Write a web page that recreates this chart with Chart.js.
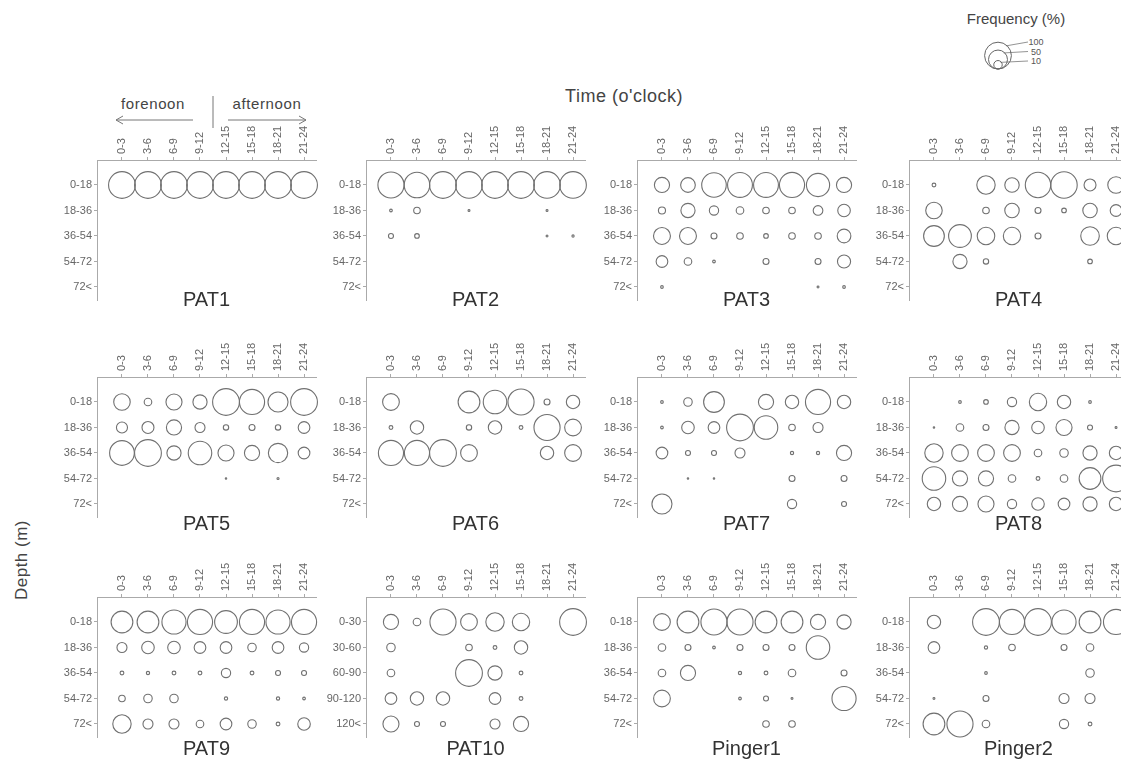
<!DOCTYPE html>
<html>
<head>
<meta charset="utf-8">
<script src="https://cdn.jsdelivr.net/npm/chart.js@4.4.1/dist/chart.umd.min.js"></script>
<style>
  body { margin: 0; background: #fff; width: 1121px; height: 764px; overflow: hidden; position: relative;
         font-family: "Liberation Sans", Arial, sans-serif; color: #444; }
  canvas { position: absolute; }
  .lbl { position: absolute; white-space: nowrap; transform: translate(-50%, -50%); }
</style>
</head>
<body>

<svg width="1121" height="764" style="position:absolute;left:0;top:0">
  <g stroke="#777" fill="none" stroke-width="1">
    <line x1="116" y1="120" x2="193" y2="120"/>
    <polyline points="123,116 116,120 123,124"/>
    <line x1="228" y1="120" x2="306" y2="120"/>
    <polyline points="299,116 306,120 299,124"/>
    <line x1="213" y1="96" x2="213" y2="128"/>
  </g>
  <g id="legendKey" stroke="#666" fill="none" stroke-width="1"></g>
</svg>

<div class="lbl" style="left:153px;top:103px;font-size:15px;letter-spacing:0.6px">forenoon</div>
<div class="lbl" style="left:267px;top:103px;font-size:15px;letter-spacing:0.6px">afternoon</div>
<div class="lbl" style="left:624px;top:96px;font-size:18px;letter-spacing:0.5px">Time (o'clock)</div>
<div class="lbl" style="left:1016px;top:18px;font-size:15px">Frequency (%)</div>
<div class="lbl" style="left:22px;top:560px;font-size:17px;letter-spacing:0.5px;transform:translate(-50%,-50%) rotate(-90deg)">Depth (m)</div>

<script>
// time of day bins (columns) and depth bins (rows)
const times = ["0-3", "3-6", "6-9", "9-12", "12-15", "15-18", "18-21", "21-24"];
const depths = ["0-18", "18-36", "36-54", "54-72", "72<"];
const depthsPat10 = ["0-30", "30-60", "60-90", "90-120", "120<"];
const legendValues = [100, 50, 10];

// frequency (%) per depth row, one value per time bin
const pat1 = [
  [100, 100, 100, 100, 100, 100, 100, 100],
  [0, 0, 0, 0, 0, 0, 0, 0],
  [0, 0, 0, 0, 0, 0, 0, 0],
  [0, 0, 0, 0, 0, 0, 0, 0],
  [0, 0, 0, 0, 0, 0, 0, 0]
];
const pat2 = [
  [95, 91, 100, 99, 100, 100, 99, 99],
  [1, 6, 0, 0.5, 0, 0, 0.5, 0],
  [3.5, 3, 0, 0, 0, 0, 0.5, 0.7],
  [0, 0, 0, 0, 0, 0, 0, 0],
  [0, 0, 0, 0, 0, 0, 0, 0]
];
const pat3 = [
  [32, 30, 84, 86, 86, 88, 75, 32],
  [7, 28, 12, 8, 6, 6, 13, 22],
  [40, 40, 5, 6, 3, 6, 6, 26],
  [19, 8, 1, 0, 5, 0, 5, 24],
  [1, 0, 0, 0, 0, 0, 0.5, 1]
];
const pat4 = [
  [2, 0, 47, 29, 90, 97, 20, 38],
  [38, 0, 6, 29, 5, 3, 29, 19],
  [60, 72, 43, 42, 5, 0, 48, 43],
  [0, 28, 4, 0, 0, 0, 3, 0],
  [0, 0, 0, 0, 0, 0, 0, 0]
];
const pat5 = [
  [38, 8, 36, 28, 100, 88, 56, 100],
  [17, 20, 32, 14, 4, 5, 4, 19],
  [85, 100, 28, 77, 36, 32, 52, 19],
  [0, 0, 0, 0, 0.3, 0, 0.6, 0],
  [0, 0, 0, 0, 0, 0, 0, 0]
];
const pat6 = [
  [39, 0, 0, 66, 77, 95, 5, 25],
  [2, 25, 0, 4, 25, 2, 95, 39],
  [88, 88, 100, 39, 0, 0, 25, 39],
  [0, 0, 0, 0, 0, 0, 0, 0],
  [0, 0, 0, 0, 0, 0, 0, 0]
];
const pat7 = [
  [1, 10, 60, 0, 32, 25, 88, 25],
  [1, 22, 19, 100, 77, 6, 14, 0],
  [19, 3.5, 3.5, 14, 0, 1.5, 1.5, 32],
  [0, 0.3, 0.3, 0, 0, 5, 0, 5],
  [56, 0, 0, 0, 0, 12, 0, 3.5]
];
const pat8 = [
  [0, 1, 3, 12, 42, 25, 1, 0],
  [0.3, 8, 5, 28, 22, 36, 3.5, 0.5],
  [47, 39, 39, 39, 8, 10, 28, 25],
  [77, 32, 32, 8, 2, 8, 66, 100],
  [25, 32, 36, 12, 22, 19, 28, 25]
];
const pat9 = [
  [66, 66, 81, 88, 72, 88, 81, 88],
  [14, 22, 22, 19, 19, 10, 19, 12],
  [2, 1.5, 2, 2, 12, 2, 3.5, 3.5],
  [6, 10, 10, 0, 1.5, 0, 1.5, 1],
  [47, 14, 14, 8, 19, 10, 2, 22]
];
const pat10 = [
  [32, 8, 95, 39, 47, 42, 0, 100],
  [10, 0, 0, 6, 2, 25, 0, 0],
  [8, 0, 0, 100, 28, 2, 0, 0],
  [19, 25, 25, 0, 19, 2, 0, 0],
  [36, 3.5, 3.5, 0, 14, 32, 0, 0]
];
const pinger1 = [
  [39, 66, 95, 95, 66, 66, 32, 28],
  [8, 5, 1, 5, 5, 5, 77, 0],
  [8, 32, 0, 1.5, 2, 8, 0, 5],
  [39, 0, 0, 1, 3.5, 0.5, 0, 81],
  [0, 0, 0, 0, 6, 6, 0, 0]
];
const pinger2 = [
  [25, 0, 100, 88, 100, 81, 66, 88],
  [19, 0, 1.5, 6, 0, 5, 8, 0],
  [0, 0, 1, 0, 0, 0, 10, 0],
  [0.5, 0, 5, 0, 0, 14, 14, 0],
  [66, 95, 8, 0, 0, 12, 2, 0]
];

// panel layout: axis origin (left, top) in page pixels, title offset below axis top
const panels = [
  { name: "PAT1", values: pat1, rows: depths, left: 97, top: 160, titleDy: 140 },
  { name: "PAT2", values: pat2, rows: depths, left: 366, top: 160, titleDy: 140 },
  { name: "PAT3", values: pat3, rows: depths, left: 637, top: 160, titleDy: 140 },
  { name: "PAT4", values: pat4, rows: depths, left: 909, top: 160, titleDy: 140 },
  { name: "PAT5", values: pat5, rows: depths, left: 97, top: 377, titleDy: 147 },
  { name: "PAT6", values: pat6, rows: depths, left: 366, top: 377, titleDy: 147 },
  { name: "PAT7", values: pat7, rows: depths, left: 637, top: 377, titleDy: 147 },
  { name: "PAT8", values: pat8, rows: depths, left: 909, top: 377, titleDy: 147 },
  { name: "PAT9", values: pat9, rows: depths, left: 97, top: 597, titleDy: 152 },
  { name: "PAT10", values: pat10, rows: depthsPat10, left: 366, top: 597, titleDy: 152 },
  { name: "Pinger1", values: pinger1, rows: depths, left: 637, top: 597, titleDy: 152 },
  { name: "Pinger2", values: pinger2, rows: depths, left: 909, top: 597, titleDy: 152 }
];

const FULL_R = 13.4;   // radius of a 100 % circle
const radius = v => FULL_R * Math.sqrt(v / 100);

const Y_AXIS_W = 62, X_AXIS_H = 48, AREA_W = 219, AREA_H = 140, PAD_R = 4, PAD_B = 34;
const FONT = '"Liberation Sans", Arial, sans-serif';

// panel name under each plot
const panelTitle = {
  id: 'panelTitle',
  afterDraw(chart, args, opts) {
    const { ctx, chartArea } = chart;
    ctx.save();
    ctx.font = '20px ' + FONT;
    ctx.fillStyle = '#333';
    ctx.textAlign = 'center';
    ctx.textBaseline = 'middle';
    ctx.fillText(opts.text, (chartArea.left + chartArea.right) / 2, chartArea.top + opts.dy);
    ctx.restore();
  }
};

function noPad(s) {
  s.paddingLeft = 0; s.paddingRight = 0; s.paddingTop = 0; s.paddingBottom = 0;
}

function drawPanel(p) {
  const cv = document.createElement('canvas');
  cv.width = Y_AXIS_W + AREA_W + PAD_R;
  cv.height = X_AXIS_H + AREA_H + PAD_B;
  cv.style.left = (p.left - Y_AXIS_W) + 'px';
  cv.style.top = (p.top - X_AXIS_H) + 'px';
  document.body.appendChild(cv);

  const points = [];
  p.values.forEach((row, ri) => {
    row.forEach((v, ci) => {
      if (v > 0) points.push({ x: ci, y: ri, r: radius(v) });
    });
  });

  new Chart(cv, {
    type: 'bubble',
    data: {
      datasets: [{
        data: points,
        borderColor: '#707070',
        backgroundColor: 'rgba(0,0,0,0)',
        borderWidth: 1.1,
        hoverRadius: 0,
        clip: false
      }]
    },
    options: {
      responsive: false,
      animation: false,
      events: [],
      layout: { autoPadding: false, padding: { left: 0, top: 0, right: PAD_R, bottom: PAD_B } },
      plugins: {
        legend: { display: false },
        tooltip: { enabled: false },
        panelTitle: { text: p.name, dy: p.titleDy }
      },
      scales: {
        x: {
          type: 'linear',
          position: 'top',
          min: -0.96,
          max: 7.46,
          afterBuildTicks: s => { s.ticks = times.map((t, i) => ({ value: i })); },
          afterFit: s => { s.height = X_AXIS_H; noPad(s); },
          ticks: {
            callback: v => times[v],
            minRotation: 90,
            maxRotation: 90,
            autoSkip: false,
            padding: 3,
            labelOffset: 13,
            color: '#666',
            font: { size: 11, family: FONT }
          },
          grid: { drawOnChartArea: false, tickLength: 3, color: '#aaa' },
          border: { color: '#aaa' }
        },
        y: {
          type: 'linear',
          reverse: true,
          min: -0.98,
          max: 4.51,
          afterBuildTicks: s => { s.ticks = p.rows.map((t, i) => ({ value: i })); },
          afterFit: s => { s.width = Y_AXIS_W; noPad(s); },
          ticks: {
            callback: v => p.rows[v],
            autoSkip: false,
            padding: 2,
            color: '#666',
            font: { size: 11, family: FONT }
          },
          grid: { drawOnChartArea: false, tickLength: 3, color: '#aaa' },
          border: { color: '#aaa' }
        }
      }
    },
    plugins: [panelTitle]
  });
}

panels.forEach(drawPanel);

// frequency key: nested circles touching at the bottom
const key = document.getElementById('legendKey');
const keyX = 998, keyBottom = 69;
legendValues.forEach((v, i) => {
  const r = radius(v);
  const c = document.createElementNS('http://www.w3.org/2000/svg', 'circle');
  c.setAttribute('cx', keyX);
  c.setAttribute('cy', keyBottom - r);
  c.setAttribute('r', r);
  key.appendChild(c);
  const ly = 42 + i * 9.5;
  const ln = document.createElementNS('http://www.w3.org/2000/svg', 'line');
  ln.setAttribute('x1', keyX + r * 0.6);
  ln.setAttribute('y1', keyBottom - r - r * 0.8 + 1);
  ln.setAttribute('x2', 1028);
  ln.setAttribute('y2', ly);
  ln.setAttribute('stroke-width', '0.7');
  key.appendChild(ln);
  const d = document.createElement('div');
  d.className = 'lbl';
  d.style.left = '1036px';
  d.style.top = ly + 'px';
  d.style.fontSize = '9px';
  d.style.color = '#555';
  d.textContent = v;
  document.body.appendChild(d);
});
</script>
</body>
</html>
